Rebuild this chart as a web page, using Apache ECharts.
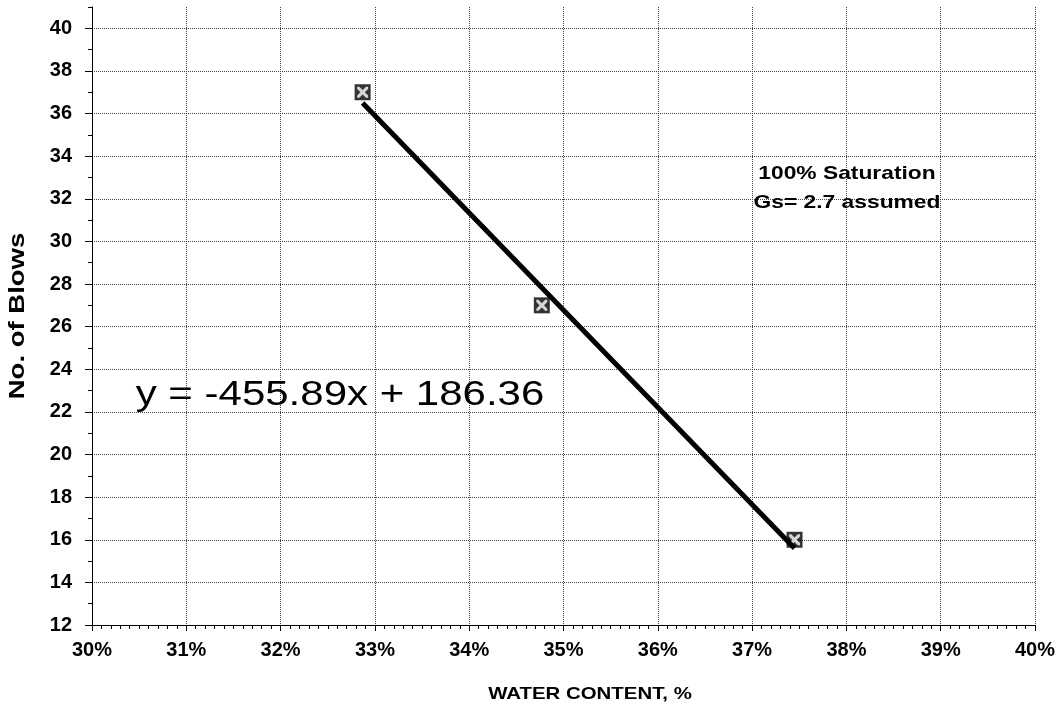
<!DOCTYPE html>
<html>
<head>
<meta charset="utf-8">
<script src="https://cdn.jsdelivr.net/npm/echarts@6/dist/echarts.min.js"></script>
<style>html,body{margin:0;padding:0;background:#fff}#c{width:1059px;height:710px}</style>
</head>
<body>
<div id="c"></div>
<script>
// Data
const waterContent = [0.3287, 0.3477, 0.3745];
const blows = [37, 27, 16];
const trendX = [0.3287, 0.3745];
const trendY = [36.5, 15.6];
const xTicks = [0.30, 0.31, 0.32, 0.33, 0.34, 0.35, 0.36, 0.37, 0.38, 0.39, 0.40];
const yTicks = [12, 14, 16, 18, 20, 22, 24, 26, 28, 30, 32, 34, 36, 38, 40];
const equationText = 'y = -455.89x + 186.36';
const noteLines = ['100% Saturation', 'Gs= 2.7 assumed'];
const xTitle = 'WATER CONTENT, %';
const yTitle = 'No. of Blows';

const pts = waterContent.map((x, i) => [x, blows[i]]);
const trend = trendX.map((x, i) => [x, trendY[i]]);
const FONT = '"Liberation Sans", Arial, sans-serif';

const chart = echarts.init(document.getElementById('c'), null, {renderer: 'canvas'});
chart.setOption({
  animation: false,
  backgroundColor: '#fff',
  grid: {left: 92, right: 24, top: 7, bottom: 85},
  xAxis: {
    type: 'value',
    min: xTicks[0], max: xTicks[xTicks.length - 1], interval: 0.01,
    axisLine: {show: true, onZero: false, lineStyle: {color: '#000', width: 1}},
    axisTick: {show: true, length: 6, lineStyle: {color: '#000'}},
    minorTick: {show: true, splitNumber: 10, length: 4, lineStyle: {color: '#000'}},
    axisLabel: {
      fontFamily: FONT, fontSize: 20, fontWeight: 'bold', color: '#000', margin: 15,
      formatter: v => Math.round(v * 100) + '%'
    },
    splitLine: {show: true, lineStyle: {color: '#444', type: 'dotted', width: 1}}
  },
  yAxis: [{
    type: 'value', position: 'left',
    min: yTicks[0], max: 41, interval: 2,
    axisLine: {show: true, onZero: false, lineStyle: {color: '#000', width: 1}},
    axisTick: {show: true, length: 7, lineStyle: {color: '#000'}},
    axisLabel: {
      fontFamily: FONT, fontSize: 20, fontWeight: 'bold', color: '#000', margin: 20,
      showMaxLabel: false
    },
    splitLine: {show: true, showMaxLine: false, lineStyle: {color: '#444', type: 'dotted', width: 1}}
  }, {
    type: 'value', position: 'left', offset: 0,
    min: yTicks[0], max: 41, interval: 1,
    axisLine: {show: false, onZero: false},
    axisTick: {show: true, length: 4, lineStyle: {color: '#000'}},
    axisLabel: {show: false},
    splitLine: {show: false}
  }],
  series: [{
    type: 'scatter', data: pts, symbol: 'rect', symbolSize: 16,
    itemStyle: {color: '#000'}, z: 2, silent: true
  }, {
    type: 'scatter', data: pts,
    symbol: 'path://M0,0 L2,0 L5,3 L8,0 L10,0 L10,2 L7,5 L10,8 L10,10 L8,10 L5,7 L2,10 L0,10 L0,8 L3,5 L0,2 Z',
    symbolSize: 11, itemStyle: {color: '#fff'}, z: 3, silent: true
  }, {
    type: 'line', data: trend, symbol: 'none',
    lineStyle: {color: '#000', width: 5}, z: 5, silent: true
  }],
  graphic: [{
    type: 'text', x: 340, y: 395, scaleX: 1.2, z: 10,
    style: {text: equationText, fontFamily: FONT, fontSize: 35, fill: '#000', align: 'center', verticalAlign: 'middle'}
  }, {
    type: 'text', x: 847, y: 188, scaleX: 1.2, z: 10,
    style: {text: noteLines.join('\n'), fontFamily: FONT, fontSize: 19, fontWeight: 'bold', lineHeight: 29, fill: '#000', align: 'center', verticalAlign: 'middle'}
  }, {
    type: 'text', x: 590, y: 694, scaleX: 1.2, z: 10,
    style: {text: xTitle, fontFamily: FONT, fontSize: 17, fontWeight: 'bold', fill: '#000', align: 'center', verticalAlign: 'middle'}
  }, {
    type: 'text', x: 18, y: 316, rotation: Math.PI / 2, scaleX: 1.25, z: 10,
    style: {text: yTitle, fontFamily: FONT, fontSize: 22, fontWeight: 'bold', fill: '#000', align: 'center', verticalAlign: 'middle'}
  }]
});
</script>
</body>
</html>
